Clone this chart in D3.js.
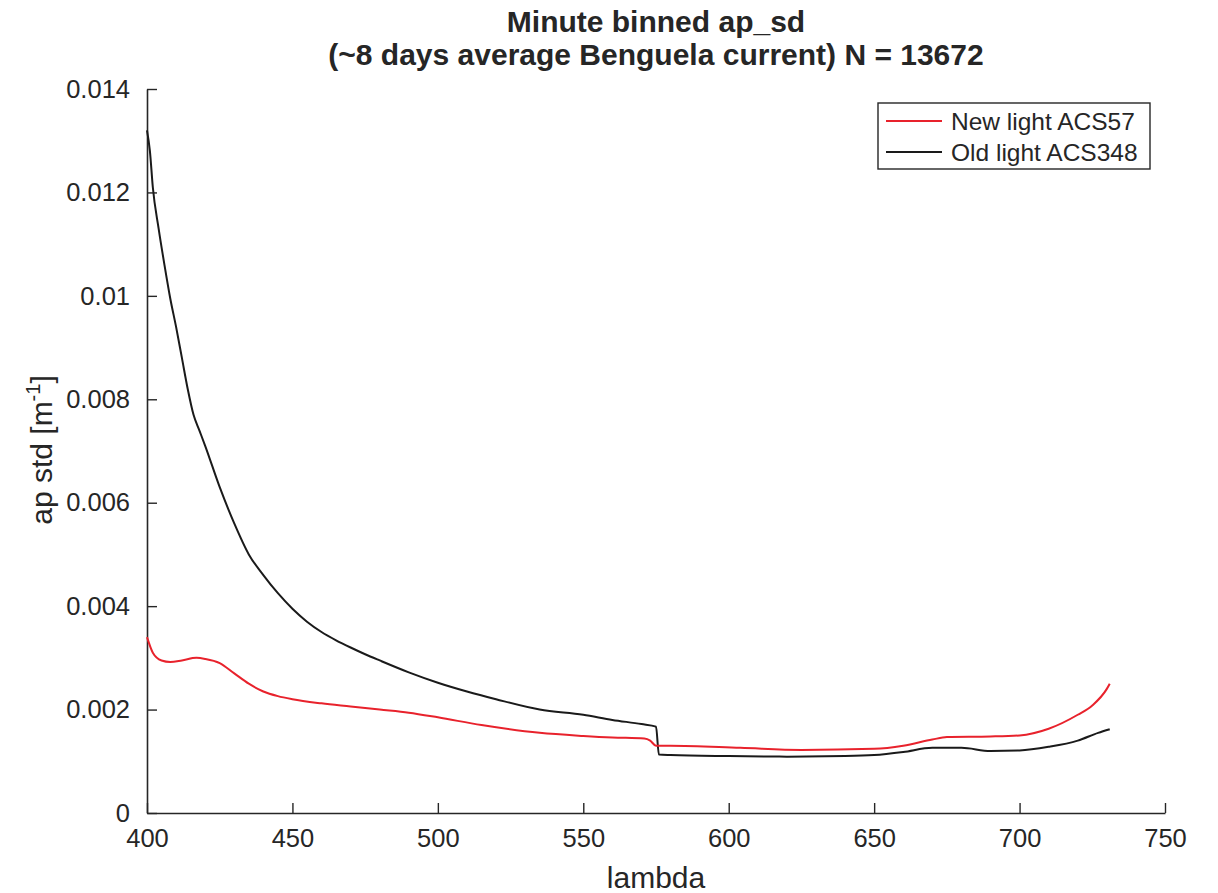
<!DOCTYPE html>
<html>
<head>
<meta charset="utf-8">
<script src="https://cdn.jsdelivr.net/npm/d3@7"></script>
<style>
  body { margin: 0; background: #fff; }
  text { font-family: "Liberation Sans", Arial, sans-serif; fill: #262626; }
</style>
</head>
<body>
<div id="chart"></div>
<script>
// wavelength grid (nm) and std values
const lambdaOld = [400, 401, 402, 404, 406, 408, 410, 412, 414, 416, 418, 420, 425, 430, 435, 440, 445, 450, 455, 460, 465, 470, 475, 480, 490, 500, 510, 520, 535, 550, 560, 570, 575, 576, 580, 600, 620, 640, 650, 660, 670, 680, 690, 700, 710, 720, 727, 731];
const oldLight = [0.0132, 0.0128, 0.0121, 0.0113, 0.0106, 0.00995, 0.0094, 0.0088, 0.0082, 0.0077, 0.0074, 0.0071, 0.0063, 0.0056, 0.0050, 0.0046, 0.00425, 0.00395, 0.0037, 0.0035, 0.00334, 0.0032, 0.00307, 0.00295, 0.00272, 0.00252, 0.00235, 0.0022, 0.0020, 0.0019, 0.0018, 0.00172, 0.00167, 0.00113, 0.00112, 0.0011, 0.00109, 0.0011, 0.00112, 0.00118, 0.00126, 0.00126, 0.0012, 0.00121, 0.00128, 0.0014, 0.00155, 0.00162];

const lambdaNew = [400, 402, 405, 408, 412, 417, 420, 425, 430, 435, 440, 445, 450, 460, 470, 480, 490, 500, 515, 535, 550, 560, 571, 573, 575, 580, 604, 625, 650, 660, 670, 675, 690, 700, 710, 720, 725, 730, 731];
const newLight = [0.0034, 0.0031, 0.00295, 0.00292, 0.00295, 0.0030, 0.00298, 0.0029, 0.0027, 0.0025, 0.00235, 0.00226, 0.0022, 0.00212, 0.00206, 0.002, 0.00194, 0.00185, 0.0017, 0.00155, 0.00149, 0.00146, 0.00144, 0.0014, 0.0013, 0.0013, 0.00126, 0.00122, 0.00124, 0.0013, 0.00142, 0.00147, 0.00148, 0.0015, 0.00163, 0.0019, 0.00208, 0.0024, 0.0025];

const xTicks = [400, 450, 500, 550, 600, 650, 700, 750];
const yTicks = [0, 0.002, 0.004, 0.006, 0.008, 0.01, 0.012, 0.014];
const seriesNames = ["New light ACS57", "Old light ACS348"];
const seriesColors = ["#e8222c", "#1a1a1a"];

const width = 1218, height = 893;
const margin = {top: 89, right: 53, bottom: 80, left: 147};
const innerW = width - margin.left - margin.right;
const innerH = height - margin.top - margin.bottom;

const svg = d3.select("#chart").append("svg")
    .attr("width", width)
    .attr("height", height);

const g = svg.append("g")
    .attr("transform", "translate(" + margin.left + "," + margin.top + ")");

const x = d3.scaleLinear().domain([400, 750]).range([0, innerW]);
const y = d3.scaleLinear().domain([0, 0.014]).range([innerH, 0]);

// axes, ticks pointing inward like matlab
const xAxis = g.append("g")
    .attr("transform", "translate(0," + innerH + ")")
    .call(d3.axisBottom(x).tickValues(xTicks).tickSizeInner(-10).tickSizeOuter(0).tickPadding(16).tickFormat(d3.format("d")));
const yAxis = g.append("g")
    .call(d3.axisLeft(y).tickValues(yTicks).tickSizeInner(-10).tickSizeOuter(0).tickPadding(17).tickFormat(d => d === 0 ? "0" : String(+d.toFixed(3))));

[xAxis, yAxis].forEach(a => {
    a.select(".domain").attr("stroke", "#262626").attr("stroke-width", 1.6);
    a.selectAll(".tick line").attr("stroke", "#262626").attr("stroke-width", 1.4);
    a.selectAll(".tick text").attr("font-size", 25.5).attr("fill", "#262626")
        .attr("font-family", "Liberation Sans, Arial, sans-serif");
});

// lines
const line = d3.line()
    .x(d => x(d[0]))
    .y(d => y(d[1]))
    .curve(d3.curveMonotoneX);

g.append("path")
    .datum(lambdaOld.map((l, i) => [l, oldLight[i]]))
    .attr("fill", "none")
    .attr("stroke", seriesColors[1])
    .attr("stroke-width", 2)
    .attr("d", line);

g.append("path")
    .datum(lambdaNew.map((l, i) => [l, newLight[i]]))
    .attr("fill", "none")
    .attr("stroke", seriesColors[0])
    .attr("stroke-width", 2)
    .attr("d", line);

// title
svg.append("text")
    .attr("x", margin.left + innerW / 2)
    .attr("y", 32)
    .attr("text-anchor", "middle")
    .attr("font-size", 30)
    .attr("font-weight", "bold")
    .text("Minute binned ap_sd");
svg.append("text")
    .attr("x", margin.left + innerW / 2)
    .attr("y", 65)
    .attr("text-anchor", "middle")
    .attr("font-size", 30)
    .attr("font-weight", "bold")
    .text("(~8 days average Benguela current) N = 13672");

// axis labels
svg.append("text")
    .attr("x", margin.left + innerW / 2)
    .attr("y", 888)
    .attr("text-anchor", "middle")
    .attr("font-size", 30)
    .text("lambda");

const yl = svg.append("text")
    .attr("transform", "translate(52,450) rotate(-90)")
    .attr("text-anchor", "middle")
    .attr("font-size", 30);
yl.append("tspan").text("ap std [m");
yl.append("tspan").attr("dy", -12).attr("font-size", 20).text("-1");
yl.append("tspan").attr("dy", 12).text("]");

// legend
const lg = svg.append("g").attr("transform", "translate(878,103)");
lg.append("rect")
    .attr("width", 272).attr("height", 66)
    .attr("fill", "#fff").attr("stroke", "#262626").attr("stroke-width", 1.4);
seriesNames.forEach((name, i) => {
    const yy = 18 + i * 31;
    lg.append("line")
        .attr("x1", 8).attr("x2", 64).attr("y1", yy).attr("y2", yy)
        .attr("stroke", seriesColors[i]).attr("stroke-width", 2);
    lg.append("text")
        .attr("x", 73).attr("y", yy + 8.5)
        .attr("font-size", 24.5)
        .text(name);
});
</script>
</body>
</html>
